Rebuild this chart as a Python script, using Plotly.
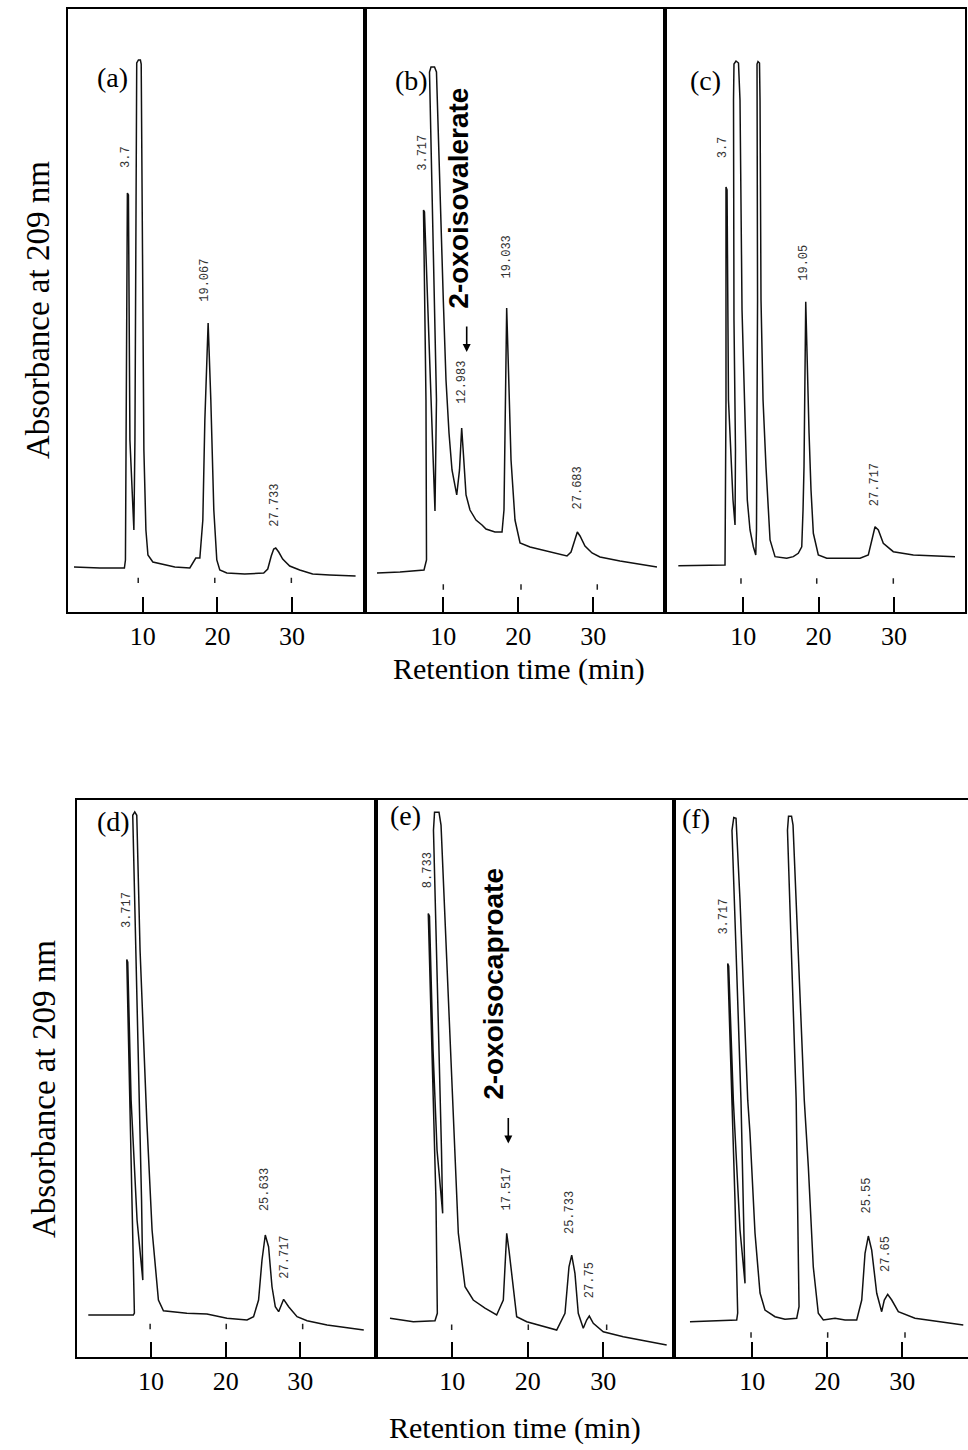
import plotly.graph_objects as go

# ---------------- DATA (retention time in min, absorbance in arbitrary units) ----------------
# (a)
a_time = [0.80, 4.28, 7.55, 7.69, 7.95, 8.09, 8.29, 8.82, 8.96, 9.09, 9.20, 9.43, 9.69, 9.80, 9.96,
          10.16, 10.43, 10.70, 11.36, 12.97, 14.30, 16.31, 16.71, 17.11, 17.65, 18.05, 18.32, 18.76,
          19.12, 19.52, 19.92, 20.32, 21.26, 23.66, 26.20, 26.74, 27.21, 27.54, 27.81, 28.21, 28.74,
          29.68, 31.02, 32.75, 35.03, 38.50]
a_abs = [7.42, 7.25, 7.25, 8.58, 69.47, 69.14, 28.49, 13.56, 28.49, 84.9, 91.04, 91.54, 91.54, 90.87,
         51.72, 26.83, 13.56, 9.41, 8.25, 7.75, 7.42, 7.25, 8.07, 8.91, 8.91, 15.22, 31.81, 47.90,
         35.13, 16.87, 8.58, 6.92, 6.42, 6.25, 6.42, 7.08, 9.24, 10.40, 10.56, 9.90, 8.74,
         7.58, 6.92, 6.25, 6.09, 5.92]
a_marks = [9.40, 19.65, 29.90]
a_mark_level = 5.2
a_labels = ["3.7", "19.067", "27.733"]
a_label_time = [7.85, 18.41, 27.67]
a_label_abs = [75.4, 55.0, 17.7]

# (b)
b_time = [1.16, 4.23, 7.43, 7.76, 7.69, 7.36, 7.49, 8.29, 8.89, 9.09, 8.69, 8.23, 8.16, 8.36, 8.83,
          9.09, 9.56, 10.00, 10.36, 10.76, 11.16, 11.79, 12.16, 12.45, 12.69, 13.03, 13.56, 14.36,
          15.16, 15.69, 16.89, 17.83, 18.09, 18.29, 18.45, 18.69, 19.03, 19.56, 20.23, 21.56, 24.23,
          26.49, 27.03, 27.49, 27.87, 28.23, 28.89, 29.83, 30.89, 33.56, 38.49]
b_abs = [6.42, 6.59, 6.92, 8.58, 35.13, 66.65, 66.32, 38.12, 16.71, 35.13, 60.0, 84.90, 89.55, 90.38,
         90.38, 89.55, 68.31, 51.72, 38.45, 29.66, 23.52, 19.37, 23.52, 30.48, 26.0, 19.37, 16.87,
         15.21, 14.39, 13.72, 13.22, 13.22, 16.87, 31.81, 50.39, 40.11, 25.17, 15.21, 11.40, 10.73,
         9.90, 9.24, 9.90, 11.89, 13.22, 12.56, 10.90, 9.74, 9.08, 8.41, 7.42]
b_marks = [10.00, 20.36, 30.53]
b_mark_level = 4.1
b_labels = ["3.717", "12.983", "19.033", "27.683"]
b_label_time = [7.25, 12.45, 18.45, 28.0]
b_label_abs = [76.1, 38.1, 58.9, 20.5]

# (c)
c_time = [1.37, 4.25, 7.57, 7.70, 7.70, 7.84, 8.03, 8.63, 8.90, 8.96, 8.76, 8.70, 8.76, 9.03, 9.36,
          9.56, 9.83, 10.16, 10.53, 10.89, 11.33, 11.65, 11.75, 11.89, 11.82, 11.82, 11.95, 12.15,
          12.22, 12.35, 12.62, 13.01, 13.55, 14.21, 15.76, 16.64, 17.30, 17.76, 17.93, 18.06, 18.29,
          18.46, 18.73, 18.99, 19.30, 19.96, 21.08, 25.50, 26.60, 27.13, 27.49, 27.93, 28.59, 29.92,
          32.58, 38.11]
c_abs = [7.63, 7.67, 7.75, 35.13, 70.47, 69.97, 35.13, 18.53, 14.39, 26.83, 48.40, 84.90, 90.87,
         91.37, 91.04, 84.90, 50.06, 35.13, 18.53, 13.56, 10.78, 9.41, 13.56, 51.72, 84.90, 90.87,
         91.29, 91.04, 84.90, 51.72, 35.13, 24.06, 11.90, 9.13, 8.86, 9.13, 9.69, 10.78, 16.87,
         24.06, 51.44, 41.77, 29.65, 20.19, 13.01, 9.41, 8.86, 8.86, 9.41, 12.18, 14.10, 13.56,
         11.35, 9.96, 9.41, 9.13]
c_marks = [9.69, 19.75, 29.92]
c_mark_level = 5.1
c_labels = ["3.7", "19.05", "27.717"]
c_label_time = [7.34, 18.06, 27.49]
c_label_abs = [77.1, 57.9, 21.0]

# (d)
d_time = [1.58, 4.50, 7.62, 7.76, 7.45, 6.74, 6.87, 7.32, 8.12, 8.89, 8.72, 8.39, 7.72, 7.54, 7.81,
          8.08, 8.52, 9.42, 10.13, 10.98, 11.65, 14.79, 17.48, 20.16, 22.85, 23.73, 24.40, 24.86,
          25.30, 25.74, 26.20, 26.64, 27.09, 27.41, 27.76, 28.43, 29.56, 30.90, 33.58, 38.50]
d_abs = [6.92, 6.92, 6.92, 7.25, 26.0, 65.94, 65.49, 42.6, 22.65, 12.71, 25.99, 42.58, 75.76, 89.86,
         90.43, 89.86, 67.46, 39.27, 21.02, 9.41, 7.63, 7.20, 7.08, 6.37, 6.09, 6.64, 9.41, 16.05,
         20.20, 18.25, 11.61, 8.30, 7.47, 8.58, 9.52, 8.30, 6.64, 5.97, 5.26, 4.43]
d_marks = [9.87, 20.07, 30.31]
d_mark_level = 5.0
d_labels = ["3.717", "25.633", "27.717"]
d_label_time = [6.74, 25.30, 27.99]
d_label_abs = [74.1, 27.7, 16.5]

# (e)
e_time = [1.76, 4.85, 7.72, 8.03, 7.85, 6.83, 6.99, 7.46, 7.99, 8.74, 8.58, 8.12, 7.52, 7.66, 8.25,
          8.52, 9.31, 10.07, 10.81, 11.70, 12.79, 14.34, 15.89, 16.77, 17.06, 17.22, 17.52, 17.88,
          18.54, 19.87, 22.29, 23.84, 24.94, 25.47, 25.83, 26.26, 26.70, 27.36, 27.81, 28.16, 28.69,
          30.01, 32.66, 38.41]
e_abs = [6.37, 5.81, 5.97, 7.20, 25.96, 73.57, 73.12, 50.89, 34.29, 23.79, 34.29, 59.18, 87.39,
         90.38, 90.38, 88.22, 64.16, 42.58, 20.52, 11.61, 9.41, 8.08, 6.92, 9.41, 16.04, 20.47,
         17.70, 13.84, 6.64, 5.81, 4.93, 4.43, 7.20, 14.93, 16.87, 13.84, 7.20, 4.71, 6.09, 6.75,
         5.54, 4.15, 3.32, 1.94]
e_marks = [9.93, 20.08, 30.46]
e_mark_level = 4.9
e_labels = ["8.733", "17.517", "25.733", "27.75"]
e_label_time = [6.83, 17.30, 25.60, 28.25]
e_label_abs = [80.8, 27.8, 24.0, 12.7]

# (f)
f_time = [1.69, 5.03, 7.92, 8.05, 7.69, 6.72, 6.85, 7.47, 8.36, 9.03, 8.83, 8.49, 7.83, 7.29, 7.53,
          7.83, 8.36, 9.39, 9.69, 10.36, 11.03, 11.69, 13.03, 14.36, 15.92, 16.23, 16.03, 15.85,
          14.69, 14.83, 15.23, 15.43, 16.93, 17.47, 18.13, 18.80, 19.47, 21.03, 22.36, 23.92, 24.59,
          25.03, 25.47, 25.92, 26.59, 27.25, 27.60, 28.05, 28.59, 29.47, 31.69, 34.80, 38.13]
f_abs = [5.81, 5.92, 6.09, 7.25, 26.0, 65.27, 64.82, 42.58, 21.02, 12.18, 25.99, 42.58, 67.46, 87.37,
         89.50, 89.38, 75.76, 42.58, 37.12, 20.52, 10.57, 7.75, 6.64, 6.21, 6.37, 8.30, 26.0, 42.58,
         87.39, 89.71, 89.71, 88.22, 42.58, 31.52, 14.93, 7.20, 6.09, 6.37, 6.09, 6.09, 9.41,
         17.16, 20.03, 17.70, 10.52, 7.47, 9.41, 10.35, 9.41, 7.47, 6.37, 5.81, 5.26]
f_marks = [9.83, 20.05, 30.36]
f_mark_level = 3.6
f_labels = ["3.717", "25.55", "27.65"]
f_label_time = [6.27, 25.25, 27.92]
f_label_abs = [73.1, 26.7, 17.0]

panel_names = ["(a)", "(b)", "(c)", "(d)", "(e)", "(f)"]
x_ticks = [10, 20, 30]
x_tick_text = ["10", "20", "30"]
y_title = "Absorbance at 209 nm"
x_title = "Retention time (min)"
note_b = "2-oxoisovalerate"
note_e = "2-oxoisocaproate"

# ---------------- LAYOUT ----------------
W, H = 968, 1450
# frame pixel positions (left, right, top, bottom) and x-ranges of each panel
frames = [(68, 365, 9, 611.7), (365, 665, 9, 611.7), (665, 965, 9, 611.7),
          (77, 375.5, 800, 1356.7), (375.5, 674, 800, 1356.7), (674, 968, 800, 1356.7)]
xranges = [[0, 39.76], [-0.44, 39.56], [-0.40, 39.44],
           [0.07, 40.07], [-0.16, 39.38], [-0.44, 38.76]]
yranges = [[0, 100]] * 3 + [[0, 92.4]] * 3
# panel-letter placement: (left px, centre-y px)
letter_pos = [(95, 78), (393, 80), (688, 80), (95, 822), (388, 815), (680, 818)]

series = [
    (a_time, a_abs, a_marks, a_mark_level, a_labels, a_label_time, a_label_abs),
    (b_time, b_abs, b_marks, b_mark_level, b_labels, b_label_time, b_label_abs),
    (c_time, c_abs, c_marks, c_mark_level, c_labels, c_label_time, c_label_abs),
    (d_time, d_abs, d_marks, d_mark_level, d_labels, d_label_time, d_label_abs),
    (e_time, e_abs, e_marks, e_mark_level, e_labels, e_label_time, e_label_abs),
    (f_time, f_abs, f_marks, f_mark_level, f_labels, f_label_time, f_label_abs),
]

SERIF = "Liberation Serif, Times New Roman, serif"
fig = go.Figure()
layout = dict(width=W, height=H, margin=dict(l=0, r=0, t=0, b=0),
              paper_bgcolor="white", plot_bgcolor="white", showlegend=False)
annotations = []

for i, (t, ab, marks, lvl, labs, lt, la) in enumerate(series):
    n = i + 1
    xa = "x" if n == 1 else f"x{n}"
    ya = "y" if n == 1 else f"y{n}"
    L, R, T, B = frames[i]
    layout["xaxis" if n == 1 else f"xaxis{n}"] = dict(
        domain=[L / W, min(R / W, 1.0)], range=xranges[i], anchor=ya,
        showline=True, linecolor="black", linewidth=2, mirror=True,
        showgrid=False, zeroline=False, tickmode="array", tickvals=x_ticks, ticktext=x_tick_text,
        ticks="inside", ticklen=15, tickwidth=2, tickcolor="black",
        tickfont=dict(family=SERIF, size=26, color="black"))
    layout["yaxis" if n == 1 else f"yaxis{n}"] = dict(
        domain=[1 - B / H, 1 - T / H], range=yranges[i], anchor=xa,
        showline=True, linecolor="black", linewidth=2, mirror=(n != 6),
        showgrid=False, zeroline=False, showticklabels=False, ticks="")
    fig.add_trace(go.Scatter(x=t, y=ab, xaxis=xa, yaxis=ya, mode="lines",
                             line=dict(color="#111111", width=1.5), hoverinfo="skip"))
    mx, my = [], []
    for m in marks:
        mx += [m, m, None]
        my += [lvl - 0.45, lvl + 0.45, None]
    fig.add_trace(go.Scatter(x=mx, y=my, xaxis=xa, yaxis=ya, mode="lines",
                             line=dict(color="#222222", width=1.5), hoverinfo="skip"))
    for s, px, py in zip(labs, lt, la):
        annotations.append(dict(x=px, y=py, xref=xa, yref=ya, text=s, showarrow=False,
                                textangle=-90, xanchor="center", yanchor="middle",
                                font=dict(family="Liberation Mono, monospace",
                                          size=12, color="#333333")))
    lx, ly = letter_pos[i]
    annotations.append(dict(x=lx / W, y=1 - ly / H, xref="paper", yref="paper",
                            text=panel_names[i], showarrow=False,
                            xanchor="left", yanchor="middle",
                            font=dict(family=SERIF, size=28, color="black")))

# compound notes with arrows
annotations.append(dict(x=12.09, y=68.7, xref="x2", yref="y2", text=f"<b>{note_b}</b>",
                        showarrow=False, textangle=-90, xanchor="center", yanchor="middle",
                        font=dict(family="Liberation Sans, Arial, sans-serif", size=28,
                                  color="black")))
annotations.append(dict(x=13.12, y=43.1, xref="x2", yref="y2", text="", showarrow=True,
                        ax=0, ay=-27, arrowhead=2, arrowsize=1, arrowwidth=1.6, arrowcolor="black"))
annotations.append(dict(x=15.55, y=61.9, xref="x5", yref="y5", text=f"<b>{note_e}</b>",
                        showarrow=False, textangle=-90, xanchor="center", yanchor="middle",
                        font=dict(family="Liberation Sans, Arial, sans-serif", size=28,
                                  color="black")))
annotations.append(dict(x=17.43, y=35.4, xref="x5", yref="y5", text="", showarrow=True,
                        ax=0, ay=-27, arrowhead=2, arrowsize=1, arrowwidth=1.6, arrowcolor="black"))

# axis titles
for (xp, yp) in [(38, 310), (44, 1089)]:
    annotations.append(dict(x=xp / W, y=1 - yp / H, xref="paper", yref="paper", text=y_title,
                            showarrow=False, textangle=-90, xanchor="center", yanchor="middle",
                            font=dict(family=SERIF, size=33, color="black")))
for (xp, yp) in [(519, 669), (515, 1428)]:
    annotations.append(dict(x=xp / W, y=1 - yp / H, xref="paper", yref="paper", text=x_title,
                            showarrow=False, xanchor="center", yanchor="middle",
                            font=dict(family=SERIF, size=30, color="black")))

layout["annotations"] = annotations
fig.update_layout(**layout)
fig.write_html("out.html", config={"displayModeBar": False},
               post_script="document.body.style.margin='0px';")
